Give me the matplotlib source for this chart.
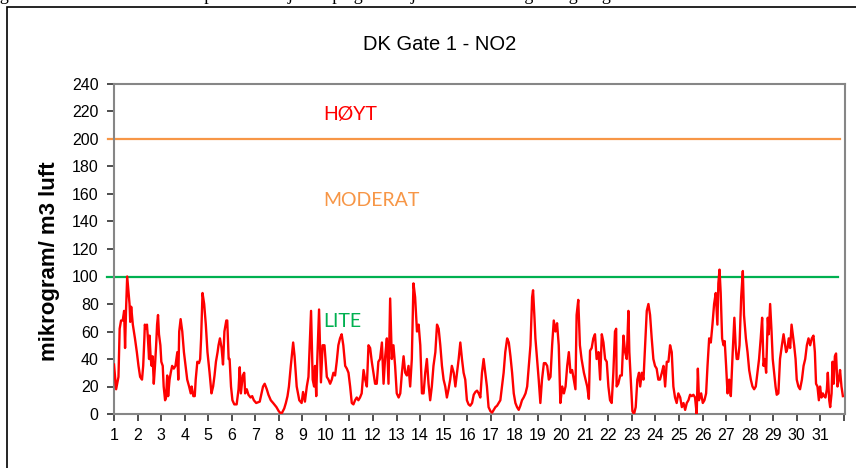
import matplotlib.pyplot as plt
from matplotlib.patches import Rectangle

# hourly NO2 readings, position given in days (1 = start of day 1)
dager = [
    1.00, 1.09, 1.19, 1.24, 1.30, 1.37, 1.43, 1.47, 1.51, 1.56, 1.60, 1.66, 1.69, 1.73, 1.80, 1.89, 1.97,
    2.04, 2.11, 2.19, 2.24, 2.29, 2.31, 2.36, 2.40, 2.44, 2.49, 2.51, 2.56, 2.60, 2.64, 2.69, 2.74, 2.79,
    2.83, 2.87, 2.91, 2.97, 3.01, 3.07, 3.11, 3.17, 3.21, 3.26, 3.30, 3.36, 3.41, 3.47, 3.54, 3.61, 3.69,
    3.73, 3.77, 3.83, 3.90, 3.97, 4.04, 4.11, 4.19, 4.26, 4.30, 4.37, 4.43, 4.47, 4.54, 4.61, 4.66, 4.70,
    4.76, 4.83, 4.90, 4.97, 5.06, 5.14, 5.21, 5.27, 5.33, 5.40, 5.44, 5.50, 5.57, 5.63, 5.69, 5.77, 5.81,
    5.87, 5.91, 5.97, 6.03, 6.11, 6.21, 6.29, 6.34, 6.39, 6.47, 6.53, 6.57, 6.64, 6.71, 6.80, 6.87, 6.94,
    7.04, 7.19, 7.33, 7.40, 7.49, 7.56, 7.66, 7.76, 7.90, 8.00, 8.11, 8.23, 8.30, 8.37, 8.43, 8.51, 8.61,
    8.67, 8.76, 8.87, 8.97, 9.03, 9.11, 9.19, 9.26, 9.37, 9.44, 9.50, 9.54, 9.59, 9.63, 9.71, 9.79, 9.86,
    9.94, 10.04, 10.11,
    10.18, 10.25, 10.32, 10.39, 10.46, 10.53, 10.60, 10.67, 10.74, 10.82, 10.89, 10.96, 11.03, 11.10,
    11.17, 11.24, 11.31, 11.38, 11.45, 11.52, 11.60, 11.67, 11.74, 11.81, 11.88, 11.95, 12.02, 12.09,
    12.16, 12.23, 12.30, 12.38, 12.45, 12.52, 12.59, 12.66, 12.73, 12.80, 12.87, 12.94, 13.01, 13.09,
    13.16, 13.23, 13.30, 13.37, 13.44, 13.51, 13.58, 13.65, 13.72, 13.79, 13.87, 13.94, 14.01, 14.08,
    14.15, 14.22, 14.29, 14.36, 14.43, 14.50, 14.57, 14.65, 14.72, 14.79, 14.86, 14.93, 15.00, 15.07,
    15.14, 15.21, 15.28, 15.35, 15.43, 15.50, 15.57, 15.64, 15.71, 15.78, 15.85, 15.92, 15.99, 16.06,
    16.13, 16.21, 16.28, 16.35, 16.42, 16.49, 16.56, 16.63, 16.70, 16.77, 16.84, 16.91, 16.99, 17.06,
    17.13, 17.20, 17.27, 17.34, 17.41, 17.48, 17.55, 17.62, 17.70, 17.77, 17.84, 17.91, 17.98, 18.05,
    18.12, 18.19, 18.26, 18.33, 18.40, 18.48, 18.55, 18.62, 18.69, 18.76, 18.80, 18.86, 18.90, 18.97,
    19.04, 19.11, 19.18, 19.26, 19.33, 19.40, 19.47, 19.54, 19.61, 19.68, 19.75, 19.82, 19.89, 19.96,
    20.04, 20.11, 20.18, 20.25, 20.32, 20.39, 20.46, 20.53, 20.60, 20.65, 20.72, 20.79, 20.86, 20.96,
    21.03, 21.10, 21.17,
    21.22, 21.29, 21.36, 21.43, 21.50, 21.58, 21.65, 21.72, 21.79, 21.86, 21.93, 22.00, 22.07, 22.14,
    22.21, 22.28, 22.33, 22.35, 22.42, 22.50, 22.57, 22.64, 22.71, 22.78, 22.85, 22.89, 22.95, 23.02,
    23.09, 23.16, 23.23, 23.30, 23.35, 23.42, 23.49, 23.56, 23.63, 23.70, 23.77, 23.84, 23.91, 23.98,
    24.05, 24.12, 24.19, 24.27, 24.34, 24.41, 24.48, 24.55, 24.62, 24.69, 24.76, 24.83, 24.90, 24.97,
    25.05, 25.12, 25.19, 25.26, 25.33, 25.40, 25.47, 25.54, 25.61, 25.68, 25.75, 25.80, 25.85, 25.94,
    26.01, 26.08, 26.15, 26.21, 26.28, 26.35, 26.42, 26.49, 26.56, 26.63, 26.67, 26.72, 26.77, 26.83,
    26.89, 26.94, 27.00, 27.06, 27.13, 27.20, 27.28, 27.35, 27.41, 27.45, 27.51, 27.57, 27.64, 27.71,
    27.76, 27.84, 27.91, 27.98, 28.05, 28.12, 28.19, 28.26, 28.33, 28.40, 28.47, 28.53, 28.59, 28.64,
    28.70, 28.77, 28.81, 28.87, 28.93, 28.98, 29.04, 29.10, 29.15, 29.22, 29.29, 29.37, 29.44, 29.49,
    29.55, 29.61, 29.66, 29.72, 29.78, 29.83, 29.89, 29.95, 30.00, 30.07, 30.14, 30.22, 30.29, 30.36,
    30.43, 30.50, 30.57, 30.64, 30.71, 30.77, 30.82, 30.88, 30.94, 30.99, 31.05, 31.11, 31.16, 31.22,
    31.28, 31.32, 31.38, 31.42, 31.48, 31.52, 31.57, 31.62, 31.67, 31.73, 31.79, 31.84, 31.90, 31.96,
]
no2 = [
    36, 18, 27, 62, 68, 68, 75, 48, 75, 100, 92, 80, 67, 78, 65, 55, 45,
    35, 27, 25, 35, 55, 65, 62, 65, 55, 40, 57, 40, 35, 42, 22, 35, 50,
    65, 72, 58, 50, 38, 35, 20, 10, 12, 28, 13, 25, 30, 35, 33, 35, 45,
    25, 60, 69, 60, 45, 35, 25, 20, 15, 20, 13, 13, 25, 38, 37, 40, 55,
    88, 80, 65, 45, 30, 15, 20, 28, 38, 45, 50, 55, 48, 36, 60, 68, 68,
    40, 40, 20, 10, 7, 7, 18, 34, 15, 28, 30, 15, 18, 14, 12, 13, 10,
    8, 9, 20, 22, 18, 14, 10, 8, 5, 2, 0, 4, 8, 13, 20, 35, 52,
    42, 20, 10, 8, 16, 9, 20, 27, 75, 25, 20, 35, 13, 37, 76, 23, 50,
    50, 27, 25,
    22, 25, 30, 28, 38, 50, 55, 58, 50, 35, 33, 30, 20, 8,
    7, 10, 12, 10, 12, 15, 32, 25, 20, 50, 48, 38, 30, 22,
    22, 38, 40, 52, 22, 42, 55, 22, 84, 40, 50, 35, 15, 12,
    15, 30, 42, 30, 28, 35, 20, 40, 95, 85, 60, 65, 50, 15,
    15, 30, 40, 22, 10, 20, 35, 45, 65, 62, 50, 35, 25, 20,
    12, 18, 25, 35, 30, 20, 30, 40, 52, 40, 30, 25, 10, 7,
    6, 8, 14, 16, 17, 15, 12, 30, 40, 30, 20, 5, 2, 1,
    3, 5, 6, 8, 10, 20, 30, 45, 55, 52, 42, 30, 15, 8,
    5, 3, 6, 10, 12, 15, 20, 35, 50, 85, 90, 70, 55, 40,
    25, 8, 25, 37, 37, 35, 25, 27, 50, 68, 60, 66, 50, 8,
    20, 15, 20, 35, 45, 30, 32, 25, 18, 72, 83, 50, 40, 30,
    25, 20, 11,
    46, 48, 55, 58, 40, 45, 25, 58, 52, 40, 38, 20, 10, 8,
    30, 60, 62, 20, 22, 28, 28, 57, 45, 40, 75, 45, 25, 2,
    0, 5, 25, 30, 20, 30, 25, 50, 75, 80, 72, 55, 40, 35,
    33, 25, 25, 30, 35, 20, 38, 38, 50, 45, 20, 12, 8, 15,
    12, 5, 8, 3, 8, 10, 14, 13, 14, 12, 0, 33, 10, 15,
    8, 10, 15, 35, 55, 52, 65, 80, 88, 65, 95, 105, 88, 55,
    50, 53, 35, 15, 25, 13, 45, 70, 48, 40, 40, 50, 85, 104,
    72, 55, 45, 32, 25, 20, 18, 20, 30, 40, 55, 70, 35, 40,
    30, 70, 58, 80, 60, 40, 30, 20, 14, 15, 40, 50, 58, 52,
    45, 48, 55, 48, 65, 58, 50, 40, 25, 20, 18, 25, 35, 40,
    50, 55, 50, 55, 57, 45, 22, 20, 10, 20, 12, 15, 13, 12,
    18, 30, 10, 5, 15, 38, 22, 42, 44, 20, 25, 32, 20, 13,
]

dag_ticks = list(range(1, 33))
dag_labels = [str(d) for d in range(1, 32)] + [""]
y_ticks = list(range(0, 241, 20))

fig = plt.figure(figsize=(8.56, 4.68), dpi=100)

# figure caption from the report, cut off at the top of the picture
fig.text(-0.017, 1 + 0.5 / 468,
         "Figur 3: Timeverdier for NO2 på målestasjonen på gatestasjonen i Dronning Kongensgate i mars 2011",
         family="Liberation Serif", fontsize=13, va="baseline", ha="left")
fig.patches.append(Rectangle((7 / 856, -0.1), 1.2, 1.1 - 7 / 468, transform=fig.transFigure,
                             fill=False, edgecolor="black", lw=1.2))

ax = fig.add_axes([114 / 856, 1 - 414 / 468, (845 - 114) / 856, (414 - 84) / 468])

ax.plot(dager, no2, color="#FF0000", lw=1.7, zorder=3)
ax.plot([0.75, 31.85], [200, 200], color="#F79646", lw=1.6, clip_on=False, zorder=2)
ax.plot([0.70, 31.77], [100, 100], color="#00B050", lw=1.6, clip_on=False, zorder=2)

ax.text(9.88, 218, "HØYT", color="#FF0000", family="Lato", fontsize=14, va="center")
ax.text(9.88, 155, "MODERAT", color="#F79646", family="Lato", fontsize=14, va="center")
ax.text(9.88, 67, "LITE", color="#00B050", family="Lato", fontsize=14, va="center")

ax.set_xlim(1, 32.05)
ax.set_ylim(0, 240)
ax.set_xticks(dag_ticks)
ax.set_xticklabels(dag_labels)
ax.set_yticks(y_ticks)

for s in ax.spines.values():
    s.set_color("#868686")
    s.set_linewidth(1.5)
ax.tick_params(direction="out", length=5, width=1.3, color="#404040", labelsize=11.5)
ax.tick_params(axis="y", pad=6)
ax.tick_params(axis="x", pad=5)
for lab in ax.get_xticklabels() + ax.get_yticklabels():
    lab.set_family("Liberation Sans")

fig.text(440 / 856, 1 - 44 / 468, "DK Gate 1 - NO2", family="Liberation Sans", fontsize=14.5,
         ha="center", va="center")
fig.text(50 / 856, 1 - 261 / 468, "mikrogram/ m3 luft", family="Liberation Sans", fontsize=16,
         fontweight="bold", rotation=90, ha="center", va="center")

fig.savefig("out.png", dpi=100)
